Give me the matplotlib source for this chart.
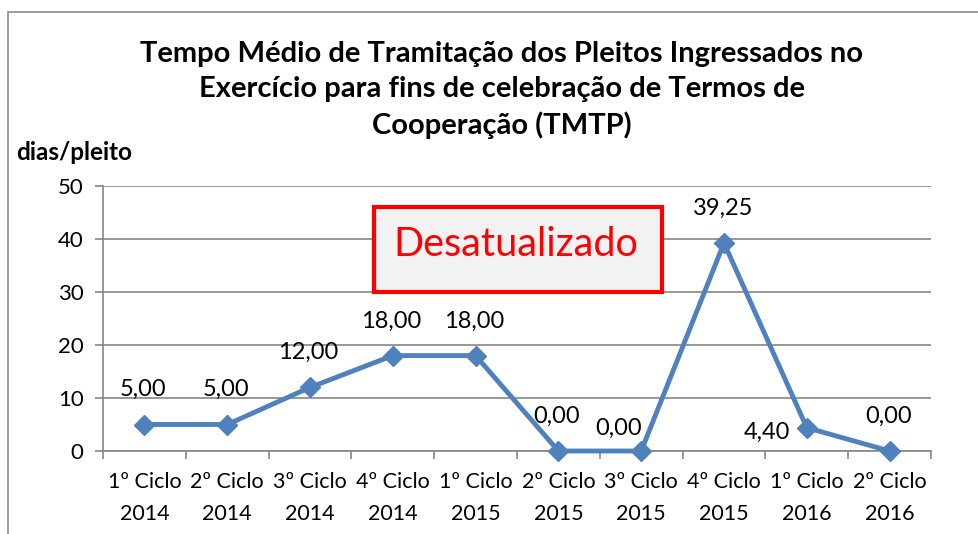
"""Tempo médio de tramitação dos pleitos (TMTP)."""

import matplotlib
matplotlib.use("Agg")
import matplotlib.pyplot as plt
from matplotlib.patches import Rectangle
import numpy as np

plt.rcParams.update({
    "font.family": ["Lato", "DejaVu Sans"],
    "font.size": 14,
})

# dados
ciclos = ["1º Ciclo\n2014", "2º Ciclo\n2014", "3º Ciclo\n2014", "4º Ciclo\n2014",
          "1º Ciclo\n2015", "2º Ciclo\n2015", "3º Ciclo\n2015", "4º Ciclo\n2015",
          "1º Ciclo\n2016", "2º Ciclo\n2016"]
tmtp = [5.00, 5.00, 12.00, 18.00, 18.00, 0.00, 0.00, 39.25, 4.40, 0.00]
y_ticks = [0, 10, 20, 30, 40, 50]

_CLR_LINE = "#4F81BD"
_CLR_GRID = "#868686"

# deslocamento dos rótulos (pontos), como no Excel
_LBL_OFF = {6: (-16, 16), 8: (-12, -3)}

fig = plt.figure(figsize=(9.79, 5.34), dpi=100)
fig.patch.set_facecolor("white")

# borda externa do gráfico
fig.add_artist(Rectangle((8 / 979, -0.1), 1.2, 1 - 12 / 534 + 0.1,
                         transform=fig.transFigure, fill=False,
                         edgecolor="#8C8C8C", linewidth=1.2))

ax = fig.add_axes([103 / 979, 1 - 451 / 534, 828 / 979, 265 / 534])
x = np.arange(len(ciclos))

ax.plot(x, tmtp, color=_CLR_LINE, linewidth=3.5, marker="D", markersize=10,
        zorder=3, clip_on=False)

for xi, v in zip(x, tmtp):
    lbl = f"{v:.2f}".replace(".", ",")
    dx, dy = _LBL_OFF.get(xi, (-1, 25))
    ha = "right" if xi == 8 else "center"
    ax.annotate(lbl, (xi, v), xytext=(dx, dy), textcoords="offset points",
                ha=ha, va="center", fontsize=17)

ax.set_xlim(-0.5, len(ciclos) - 0.5)
ax.set_ylim(0, 50)
ax.set_yticks(y_ticks)
ax.yaxis.grid(True, color=_CLR_GRID, linewidth=1.2)
ax.set_axisbelow(True)

ax.set_xticks(x)
ax.set_xticklabels(ciclos, fontsize=15.5, linespacing=1.75)
ax.set_xticks(np.arange(len(ciclos) + 1) - 0.5, minor=True)
ax.tick_params(axis="x", which="major", length=0, pad=15)
ax.tick_params(axis="x", which="minor", length=6, color=_CLR_GRID, width=1.2)
ax.tick_params(axis="y", length=6, color=_CLR_GRID, width=1.2, labelsize=16, pad=8)

for side in ("top", "right"):
    ax.spines[side].set_visible(False)
for side in ("left", "bottom"):
    ax.spines[side].set_color(_CLR_GRID)
    ax.spines[side].set_linewidth(1.2)

fig.text(502 / 979, 1 - 90 / 534,
         "Tempo Médio de Tramitação dos Pleitos Ingressados no\n"
         "Exercício para fins de celebração de Termos de\n"
         "Cooperação (TMTP)",
         ha="center", va="center", fontsize=21, fontweight="bold",
         linespacing=1.4)
fig.text(16 / 979, 1 - 153 / 534, "dias/pleito", ha="left", va="center",
         fontsize=17.5, fontweight="bold")

# aviso de dados desatualizados
fig.add_artist(Rectangle((374 / 979, 1 - 292 / 534), 288 / 979, 85 / 534,
                         transform=fig.transFigure, facecolor="#F2F2F2",
                         edgecolor="#FF0000", linewidth=3, zorder=5))
fig.text(516 / 979, 1 - 245 / 534, "Desatualizado", ha="center", va="center",
         fontsize=28.5, color="#FF0000", zorder=6)

fig.savefig("out.png", dpi=100)
